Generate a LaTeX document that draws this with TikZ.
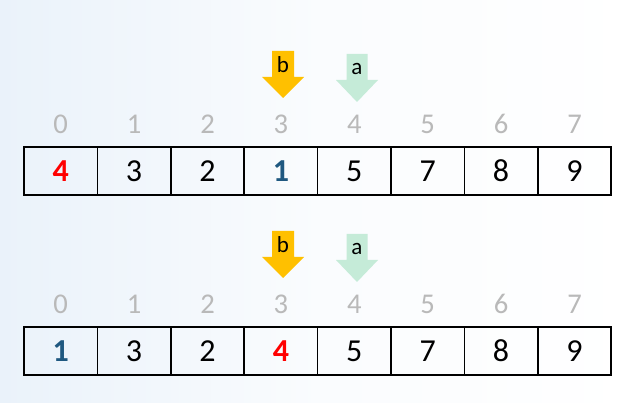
\documentclass[tikz,border=0pt]{standalone}
\usepackage{fontspec}
\setmainfont{Carlito}
\usetikzlibrary{positioning}
\definecolor{Gold}{RGB}{255,192,0}
\definecolor{Mint}{RGB}{197,235,216}
\definecolor{Navy}{RGB}{31,88,128}
\definecolor{Idx}{RGB}{185,185,185}
\definecolor{BgBlue}{RGB}{234,242,250}

\begin{document}
\begin{tikzpicture}[x=0.5pt,y=0.5pt,
  cell/.style={draw, line width=0.8pt, minimum width=36.7pt, minimum height=24pt,
    inner sep=0, outer sep=0, font=\fontsize{16}{16}\selectfont},
  idx/.style={text=Idx, inner sep=0, font=\fontsize{14.3}{14}\selectfont},
  hot/.style={text=red, font=\fontsize{16}{16}\selectfont\bfseries},
  cold/.style={text=Navy, font=\fontsize{16}{16}\selectfont\bfseries},
  plain/.style={},
  plbl/.style={inner sep=0, font=\fontsize{11.5}{11.5}\selectfont}]

\useasboundingbox (0,0) rectangle (632,402);
\shade[left color=BgBlue, right color=white, middle color=white!75!BgBlue]
  (0,0) rectangle (632,402);

% the two arrays
\foreach \r/\y/\vals in {up/231/{4/hot,3/plain,2/plain,1/cold,5/plain,7/plain,8/plain,9/plain},
                         dn/51/{1/cold,3/plain,2/plain,4/hot,5/plain,7/plain,8/plain,9/plain}}
  \foreach \v/\s [count=\i from 0] in \vals {
    \node[cell,\s] (\r\i) at ({24+73.4*(\i+0.5)},\y) {\v};
    \node[idx, above=6.5pt of \r\i] (\r i\i) {\i};
  }

% pointers b and a
\foreach \r/\dy in {up/0, dn/180} {
  \fill[Gold] (272,351-\dy) -- (294,351-\dy) -- (294,325-\dy) -- (304,325-\dy)
    -- (283,304-\dy) -- (262,325-\dy) -- (272,325-\dy) -- cycle;
  \fill[Mint] (346.5,348-\dy) -- (367.5,348-\dy) -- (367.5,322-\dy) -- (378,322-\dy)
    -- (357,300-\dy) -- (336,322-\dy) -- (346.5,322-\dy) -- cycle;
  \node[plbl] (\r b) at (283,337-\dy) {b};
  \node[plbl] (\r a) at (357,333-\dy) {a};
}

\end{tikzpicture}
\end{document}
